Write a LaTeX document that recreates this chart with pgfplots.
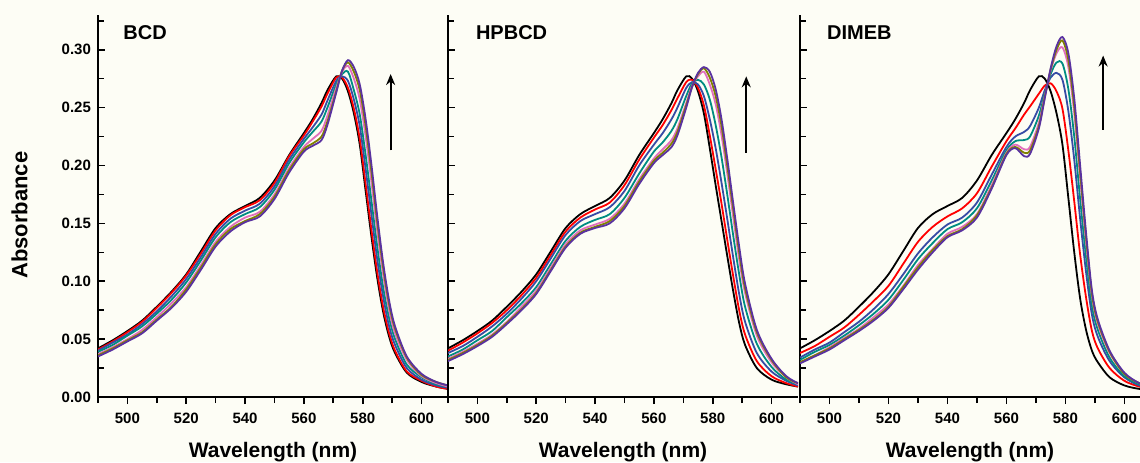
\documentclass[border=0pt]{standalone}
\usepackage{pgfplots}
\pgfplotsset{compat=1.18}
\usepackage{pgfplotstable}
\usepackage{fontspec}
\setmainfont{Liberation Sans}
\usetikzlibrary{arrows.meta}

\definecolor{bgc}{RGB}{253,253,245}
\definecolor{cK}{RGB}{0,0,0}
\definecolor{cR}{RGB}{255,0,0}
\definecolor{cB}{RGB}{55,75,165}
\definecolor{cT}{RGB}{0,140,130}
\definecolor{cM}{RGB}{225,110,190}
\definecolor{cO}{RGB}{128,128,0}
\definecolor{cP}{RGB}{90,50,160}

% columns: k=black, r=red, b=blue, t=teal, m=magenta, o=olive, p=purple
\pgfplotstableread{
x   k    r    b    t    m    o    p
490 .042 .041 .040 .039 .037 .036 .035
495 .049 .048 .047 .045 .043 .042 .041
500 .057 .056 .054 .053 .050 .049 .048
505 .066 .065 .063 .061 .058 .056 .055
510 .078 .077 .074 .072 .069 .067 .066
515 .091 .090 .087 .084 .081 .078 .077
520 .106 .105 .102 .099 .095 .093 .091
525 .126 .124 .121 .118 .114 .112 .110
530 .146 .144 .141 .138 .134 .132 .130
535 .158 .157 .154 .151 .147 .145 .143
540 .165 .164 .161 .158 .155 .152 .151
545 .172 .170 .167 .164 .160 .158 .156
550 .187 .185 .182 .179 .175 .173 .171
555 .209 .208 .205 .202 .198 .196 .194
560 .228 .226 .223 .220 .216 .214 .212
563 .240 .238 .233 .229 .223 .219 .217
566 .254 .251 .244 .238 .230 .225 .222
568 .265 .262 .256 .250 .243 .238 .235
571 .277 .276 .273 .270 .267 .264 .263
573 .275 .276 .277 .279 .281 .282 .282
575 .264 .267 .273 .281 .286 .289 .291
577 .245 .249 .257 .265 .275 .281 .285
579 .218 .223 .234 .244 .257 .265 .270
581 .178 .184 .197 .209 .225 .234 .240
583 .138 .144 .157 .169 .185 .194 .200
585 .102 .107 .118 .129 .142 .150 .155
587 .073 .077 .086 .094 .105 .111 .115
589 .052 .055 .061 .068 .075 .080 .083
591 .038 .040 .045 .050 .055 .059 .061
595 .021 .022 .025 .028 .032 .034 .035
600 .013 .014 .015 .017 .018 .019 .020
605 .009 .009 .010 .011 .012 .013 .013
609 .007 .007 .008 .009 .009 .010 .010
}\tabBCD

\pgfplotstableread{
x   k    r    b    t    m    o    p
490 .042 .040 .038 .035 .033 .032 .031
495 .049 .047 .044 .041 .039 .038 .037
500 .057 .055 .052 .049 .046 .045 .044
505 .066 .064 .061 .057 .054 .053 .052
510 .078 .075 .072 .069 .065 .064 .063
515 .091 .088 .085 .081 .078 .076 .075
520 .106 .103 .100 .095 .092 .090 .089
525 .126 .123 .120 .115 .112 .110 .109
530 .146 .143 .140 .135 .132 .130 .129
535 .158 .155 .152 .147 .144 .142 .141
540 .165 .162 .158 .153 .149 .147 .146
545 .172 .168 .164 .158 .154 .152 .150
550 .187 .183 .178 .172 .167 .165 .163
555 .209 .205 .200 .193 .188 .186 .184
560 .228 .224 .218 .212 .206 .204 .202
563 .240 .235 .228 .220 .214 .211 .209
566 .254 .248 .240 .230 .222 .219 .216
568 .265 .258 .250 .240 .232 .229 .226
571 .277 .272 .267 .260 .254 .252 .250
573 .275 .274 .272 .271 .269 .268 .268
575 .264 .267 .270 .274 .277 .279 .280
577 .245 .252 .260 .270 .281 .284 .285
579 .215 .226 .240 .257 .270 .276 .281
581 .183 .197 .215 .235 .253 .260 .266
583 .152 .167 .185 .207 .226 .234 .240
585 .121 .135 .153 .174 .192 .199 .205
587 .091 .104 .120 .139 .155 .162 .167
589 .064 .075 .089 .106 .119 .125 .130
591 .045 .054 .065 .078 .090 .094 .098
595 .025 .031 .038 .046 .053 .056 .058
600 .015 .018 .022 .026 .030 .032 .033
605 .011 .012 .014 .015 .017 .017 .018
609 .009 .009 .010 .011 .011 .012 .012
}\tabHPBCD

\pgfplotstableread{
x   k    r    b    t    m    o    p
490 .042 .038 .034 .032 .030 .030 .029
495 .049 .044 .041 .039 .036 .036 .035
500 .057 .052 .047 .045 .043 .042 .041
505 .066 .060 .056 .053 .051 .050 .049
510 .078 .071 .065 .062 .059 .058 .057
515 .091 .083 .076 .072 .069 .067 .066
520 .106 .096 .089 .084 .080 .078 .077
525 .126 .115 .106 .101 .096 .095 .093
530 .146 .134 .124 .119 .114 .112 .110
535 .158 .147 .138 .133 .128 .127 .125
540 .165 .156 .149 .145 .141 .139 .138
545 .172 .163 .155 .151 .147 .145 .144
550 .187 .176 .168 .163 .158 .157 .155
555 .209 .199 .192 .187 .183 .181 .180
560 .228 .221 .216 .213 .211 .210 .209
563 .240 .232 .225 .221 .218 .216 .215
566 .254 .244 .229 .222 .214 .211 .208
568 .265 .251 .234 .225 .216 .213 .210
571 .277 .262 .250 .243 .237 .234 .232
573 .275 .269 .265 .262 .260 .259 .258
575 .264 .271 .276 .279 .282 .283 .284
577 .245 .264 .280 .289 .297 .300 .303
579 .218 .249 .274 .288 .302 .308 .311
581 .172 .213 .247 .266 .285 .291 .297
583 .125 .169 .205 .225 .245 .251 .258
585 .085 .123 .154 .171 .189 .194 .200
587 .058 .086 .108 .121 .134 .138 .142
589 .040 .057 .071 .079 .087 .089 .092
591 .030 .042 .052 .058 .063 .065 .067
595 .017 .025 .031 .034 .038 .039 .040
600 .010 .014 .017 .018 .020 .020 .021
605 .007 .009 .010 .011 .012 .012 .012
609 .006 .007 .008 .008 .009 .009 .009
}\tabDIMEB

\newcommand{\spectra}[1]{%
  \addplot[cK] table[x=x,y=k]{#1};
  \addplot[cR] table[x=x,y=r]{#1};
  \addplot[cB] table[x=x,y=b]{#1};
  \addplot[cT] table[x=x,y=t]{#1};
  \addplot[cM] table[x=x,y=m]{#1};
  \addplot[cO] table[x=x,y=o]{#1};
  \addplot[cP] table[x=x,y=p]{#1};
}

\tikzset{
  ttl/.style={anchor=base west, inner sep=0pt, font=\bfseries\fontsize{10}{12}\selectfont},
  arr/.style={-{Stealth[length=5.5pt,width=4.5pt]}, line width=0.9pt},
}

\pgfplotsset{
  panel/.style={
    scale only axis, height=191pt,
    xmin=490, ymin=0, ymax=0.33,
    axis lines*=left,
    axis line style={line width=0.9pt},
    xtick={500,520,...,600}, minor xtick={490,510,...,610},
    ytick={0,0.05,...,0.31}, minor ytick={0.025,0.075,...,0.33},
    tick align=inside,
    major tick length=3.5pt, minor tick length=3pt,
    every tick/.style={black, line width=0.8pt},
    major x tick style={yshift=-3.5pt},
    minor x tick style={yshift=-3pt},
    tick label style={font=\bfseries\fontsize{7.5}{9}\selectfont},
    xticklabel style={yshift=-4.5pt},
    /pgf/number format/assume math mode=true,
    yticklabel style={/pgf/number format/.cd, fixed, fixed zerofill, precision=2},
    xlabel={Wavelength (nm)},
    xlabel style={at={(axis description cs:0.5,0)}, anchor=north, inner sep=0pt,
      yshift=-22.5pt, font=\bfseries\fontsize{10.5}{12}\selectfont},
    every axis plot/.append style={smooth, line width=0.9pt, no markers},
    clip=true,
  },
}

\begin{document}
\begin{tikzpicture}
\path[use as bounding box, fill=bgc] (-49pt,-32.5pt) rectangle (521pt,198.5pt);

\begin{axis}[panel, at={(0pt,0pt)}, width=175pt, xmax=609,
    ylabel={Absorbance},
    ylabel style={at={(axis description cs:-0.2,0.476)}, anchor=south, inner sep=0pt,
      font=\bfseries\fontsize{11}{13}\selectfont}]
  \spectra{\tabBCD}
  \node[ttl] at (axis description cs:0.0714,0.9346) {BCD};
  \draw[arr] (axis cs:589.5,0.213) -- (axis cs:589.5,0.279);
\end{axis}

\begin{axis}[panel, at={(175pt,0pt)}, width=175pt, xmax=609, yticklabels={}]
  \spectra{\tabHPBCD}
  \node[ttl] at (axis description cs:0.079,0.9346) {HPBCD};
  \draw[arr] (axis cs:591.4,0.211) -- (axis cs:591.4,0.277);
\end{axis}

\begin{axis}[panel, at={(351pt,0pt)}, width=170pt, xmax=605.3, yticklabels={}]
  \spectra{\tabDIMEB}
  \node[ttl] at (axis description cs:0.0785,0.9346) {DIMEB};
  \draw[arr] (axis cs:592.8,0.231) -- (axis cs:592.8,0.295);
\end{axis}
\end{tikzpicture}
\end{document}
